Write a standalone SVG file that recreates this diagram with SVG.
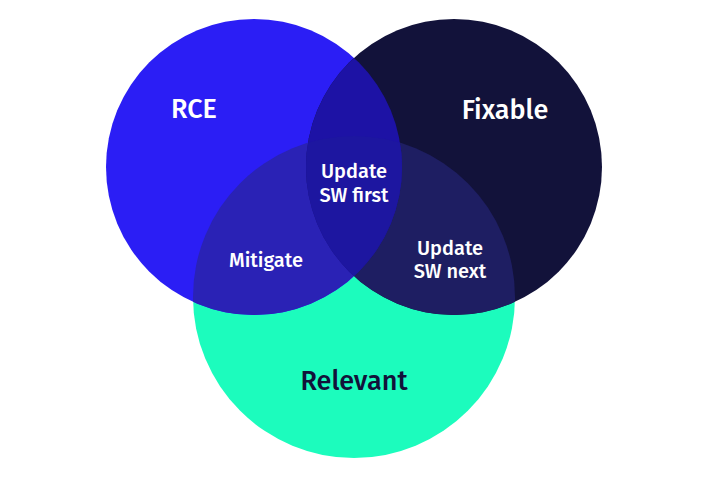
<svg xmlns="http://www.w3.org/2000/svg" width="705" height="490" viewBox="0 0 705 490">
  <style>
    .lbl { font-family: "Fira Sans", "Open Sans", "Noto Sans", sans-serif; font-weight: 500; text-anchor: middle; }
    .big { font-size: 27px; }
    .small { font-size: 20px; fill: #ffffff; }
    .light { fill: #ffffff; }
    .dark { fill: #12123a; }
  </style>
  <defs>
    <clipPath id="clipRce"><circle cx="254" cy="167" r="148"/></clipPath>
    <clipPath id="clipFix"><circle cx="454" cy="167" r="148"/></clipPath>
  </defs>

  <!-- base sets -->
  <g id="relevant">
    <circle cx="354" cy="297" r="161" fill="#1cfcbd"/>
  </g>
  <g id="rce">
    <circle cx="254" cy="167" r="148" fill="#2b1ef5"/>
  </g>
  <g id="fixable">
    <circle cx="454" cy="167" r="148" fill="#12123a"/>
  </g>

  <!-- pairwise and triple intersections -->
  <g id="mitigate-area" clip-path="url(#clipRce)">
    <circle cx="354" cy="297" r="161" fill="#2a22b5"/>
  </g>
  <g id="sw-next-area" clip-path="url(#clipFix)">
    <circle cx="354" cy="297" r="161" fill="#1e1e62"/>
  </g>
  <g id="rce-fixable-area" clip-path="url(#clipRce)">
    <circle cx="454" cy="167" r="148" fill="#1d12a5"/>
  </g>
  <g id="sw-first-area" clip-path="url(#clipRce)">
    <g clip-path="url(#clipFix)">
      <circle cx="354" cy="297" r="161" fill="#1d16a0"/>
    </g>
  </g>

  <!-- labels -->
  <g id="labels">
    <text class="lbl big light" x="194" y="118">RCE</text>
    <text class="lbl big light" x="505" y="119">Fixable</text>
    <text class="lbl big dark" x="354" y="390">Relevant</text>
    <text class="lbl small" x="354" y="178">Update</text>
    <text class="lbl small" x="354" y="202">SW first</text>
    <text class="lbl small" x="266" y="267">Mitigate</text>
    <text class="lbl small" x="450" y="255">Update</text>
    <text class="lbl small" x="450" y="278">SW next</text>
  </g>
</svg>
